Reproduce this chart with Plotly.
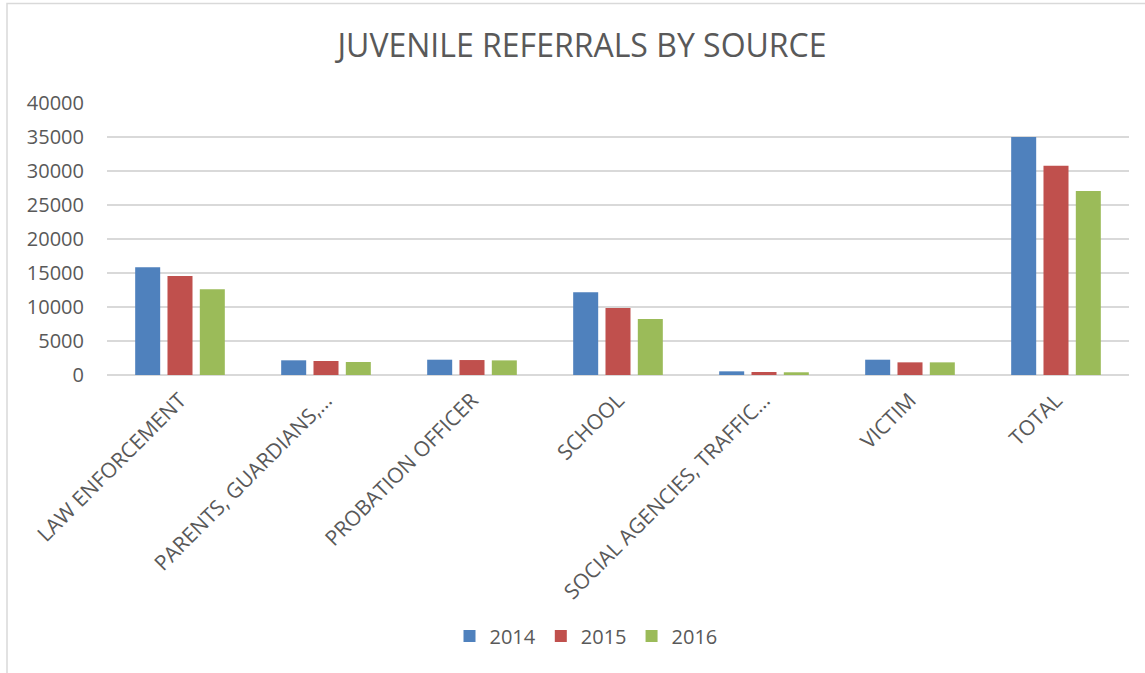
import plotly.graph_objects as go

# Referral sources and yearly counts
categories = [
    "LAW ENFORCEMENT",
    "PARENTS, GUARDIANS,…",
    "PROBATION OFFICER",
    "SCHOOL",
    "SOCIAL AGENCIES, TRAFFIC…",
    "VICTIM",
    "TOTAL",
]
years = ["2014", "2015", "2016"]
values_2014 = [15850, 2160, 2250, 12160, 540, 2250, 35000]
values_2015 = [14560, 2060, 2200, 9850, 440, 1860, 30780]
values_2016 = [12600, 1910, 2150, 8240, 400, 1860, 27060]
y_ticks = [0, 5000, 10000, 15000, 20000, 25000, 30000, 35000, 40000]

colors = ["#4F81BD", "#C0504D", "#9BBB59"]
font_family = "Open Sans, Liberation Sans, sans-serif"
text_color = "#595959"
grid_color = "#D9D9D9"

fig = go.Figure()
for name, vals, col in zip(years, [values_2014, values_2015, values_2016], colors):
    fig.add_trace(go.Bar(
        name=name, x=categories, y=vals,
        marker=dict(color=col, line=dict(width=0)),
    ))

# plot area geometry (pixels)
W, H = 1145, 673
L, R, T, B = 107, 16, 103, 298
pw, ph = W - L - R, H - T - B

def px_x(p):
    return (p - L) / pw

def px_y(p):
    return (H - B - p) / ph

fig.update_layout(
    width=W, height=H,
    margin=dict(l=L, r=R, t=T, b=B, autoexpand=False),
    paper_bgcolor="white", plot_bgcolor="white",
    font=dict(family=font_family, color=text_color, size=20),
    barmode="group", bargap=0.336, bargroupgap=0.226,
    title=dict(
        text="JUVENILE REFERRALS BY SOURCE",
        x=px_x(582), xanchor="center", xref="paper",
        y=1 - 46 / H, yanchor="middle",
        font=dict(size=32, color=text_color, family=font_family),
    ),
    xaxis=dict(
        tickangle=-45, showgrid=False, showline=False, zeroline=False,
        ticks="", ticklabelstandoff=8,
        tickfont=dict(size=21, color=text_color),
    ),
    yaxis=dict(
        range=[0, 40000], tickvals=y_ticks, ticktext=[str(v) for v in y_ticks],
        showgrid=True, gridcolor=grid_color, gridwidth=1.5,
        zeroline=True, zerolinecolor=grid_color, zerolinewidth=1.5,
        showline=False, ticks="", ticklabelstandoff=22,
        tickfont=dict(size=20, color=text_color),
    ),
    legend=dict(
        orientation="h", x=px_x(586), xanchor="center",
        y=px_y(636), yanchor="middle",
        font=dict(size=20, color=text_color),
        itemwidth=30, traceorder="normal",
    ),
    shapes=[dict(
        type="rect", xref="paper", yref="paper",
        x0=px_x(7), x1=px_x(W + 20), y0=px_y(H + 20), y1=px_y(3.5),
        line=dict(color=grid_color, width=1.5), layer="below",
    )],
)

fig.write_html("out.html")
